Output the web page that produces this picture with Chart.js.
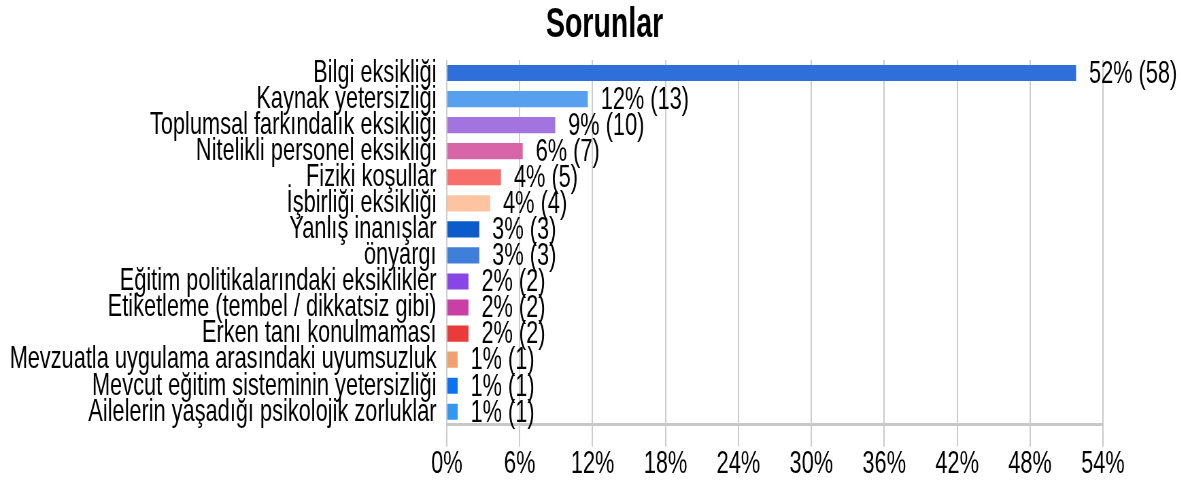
<!DOCTYPE html>
<html>
<head>
<meta charset="utf-8">
<script src="https://cdn.jsdelivr.net/npm/chart.js@4/dist/chart.umd.min.js"></script>
<style>
body { margin: 0; overflow: hidden; background: #fff; }
#wrap { width: 1737px; height: 484px; transform: scaleX(0.68); transform-origin: 0 0; }
</style>
</head>
<body>
<div id="wrap"><canvas id="myBar" width="1737" height="484"></canvas></div>
<script>
// chart data
var chartTitle = "Sorunlar";
var categories = [
    "Bilgi eksikliği",
    "Kaynak yetersizliği",
    "Toplumsal farkındalık eksikliği",
    "Nitelikli personel eksikliği",
    "Fiziki koşullar",
    "İşbirliği eksikliği",
    "Yanlış inanışlar",
    "önyargı",
    "Eğitim politikalarındaki eksiklikler",
    "Etiketleme (tembel / dikkatsiz gibi)",
    "Erken tanı konulmaması",
    "Mevzuatla uygulama arasındaki uyumsuzluk",
    "Mevcut eğitim sisteminin yetersizliği",
    "Ailelerin yaşadığı psikolojik zorluklar"
];
var counts = [58, 13, 10, 7, 5, 4, 3, 3, 2, 2, 2, 1, 1, 1];
var tickValues = [0, 6, 12, 18, 24, 30, 36, 42, 48, 54];

var barColors = [
    '#2e6fd9', '#57a0ef', '#a374df', '#d865a8', '#f76e6b', '#fec3a0', '#0b5bcb',
    '#3e7fd9', '#8946e6', '#c83fa6', '#ea3b3b', '#f3a071', '#0a73f4', '#3297f4'
];

var fontFamily = "'Liberation Sans', Arial, sans-serif";

// percentage of all answers
var total = 0;
counts.forEach(function(c){ total += c; });
var percents = counts.map(function(c){ return c / total * 100; });

// title sits a bit left of the canvas centre, so it is drawn here
var titlePlugin = {
    id: 'titlePlugin',
    afterDraw: function(chart){
        var ctx = chart.ctx;
        ctx.save();
        ctx.font = "bold 42px " + fontFamily;
        ctx.fillStyle = '#000';
        ctx.textAlign = 'center';
        ctx.textBaseline = 'middle';
        ctx.fillText(chartTitle, 889, 25);
        ctx.restore();
    }
};

// draws "52% (58)" next to each bar
var valueLabels = {
    id: 'valueLabels',
    afterDatasetsDraw: function(chart){
        var ctx = chart.ctx;
        var meta = chart.getDatasetMeta(0);
        ctx.save();
        ctx.font = "32px " + fontFamily;
        ctx.fillStyle = '#000';
        ctx.textAlign = 'left';
        ctx.textBaseline = 'middle';
        meta.data.forEach(function(bar, i){
            var txt = Math.round(percents[i]) + '% (' + counts[i] + ')';
            ctx.fillText(txt, bar.x + 19, bar.y + 1);
        });
        ctx.restore();
    }
};

var barChart = new Chart('myBar', {
    type: 'bar',
    data: {
        labels: categories,
        datasets: [{
            data: percents,
            backgroundColor: barColors,
            barPercentage: 0.62,
            categoryPercentage: 1
        }]
    },
    plugins: [valueLabels, titlePlugin],
    options: {
        indexAxis: 'y',
        responsive: false,
        animation: false,
        layout: { padding: { left: 0, right: 115, top: 60, bottom: 2 } },
        plugins: {
            legend: { display: false },
            tooltip: { enabled: false },
            title: { display: false }
        },
        scales: {
            x: {
                min: 0,
                max: 54,
                afterBuildTicks: function(scale){
                    scale.ticks = tickValues.map(function(v){ return { value: v }; });
                },
                grid: { color: '#cccccc', lineWidth: 2, tickLength: 22, drawTicks: true },
                border: { display: true, color: '#c8c8c8', width: 3 },
                ticks: {
                    color: '#000',
                    padding: 0,
                    maxRotation: 0,
                    font: { family: fontFamily, size: 32, lineHeight: 1.1 },
                    callback: function(v){ return v + '%'; }
                }
            },
            y: {
                afterFit: function(scale){ scale.width = 657; },
                grid: { display: false, drawTicks: false },
                border: { display: false },
                ticks: {
                    autoSkip: false,
                    color: '#000',
                    padding: 15,
                    font: { family: fontFamily, size: 32, lineHeight: 1 }
                }
            }
        }
    }
});
</script>
</body>
</html>
